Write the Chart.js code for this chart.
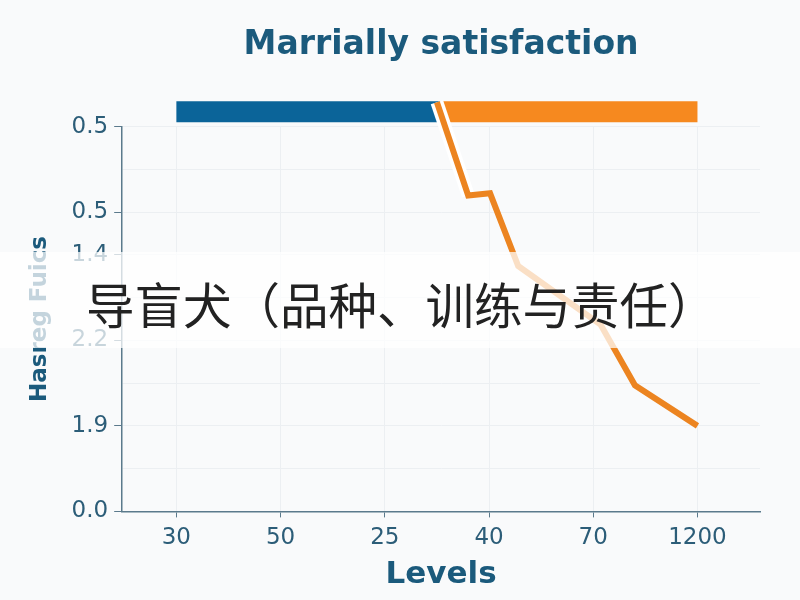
<!DOCTYPE html>
<html>
<head>
<meta charset="utf-8">
<script src="https://cdn.jsdelivr.net/npm/chart.js@4"></script>
<style>
html,body{margin:0;padding:0;background:#f9fafb;}
#wrap{position:relative;width:800px;height:600px;overflow:hidden;}
#overlay{position:absolute;left:0;top:252px;width:800px;height:96px;background:rgba(255,255,255,0.74);}
#overlay span{position:absolute;left:86px;top:0;height:96px;line-height:96px;font-family:"Noto Sans CJK SC";font-size:48.5px;color:#222;white-space:nowrap;padding-top:3px;}
</style>
</head>
<body>
<div id="wrap">
<canvas id="c" width="800" height="600"></canvas>
<div id="overlay"><span>导盲犬（品种、训练与责任）</span></div>
</div>
<script>
// ---- data ----
const categories = ['30', '50', '25', '40', '70', '1200'];
const yTickLabels = ['0.0', '', '1.9', '', '2.2', '', '1.4', '0.5', '', '0.5'];
const lineX = [2.5, 2.8, 3.01, 3.28, 4.07, 4.4, 5.0];
const lineY = [9.57, 7.39, 7.44, 5.74, 4.37, 2.95, 2.0];
const bandLevel = 9.35;
const blueBandX = [0, 2.53];
const orangeBandX = [2.53, 5.0];

// ---- styles ----
const axisColor = '#5b7a8c';
const textColor = '#2c5d78';
const titleColor = '#1b5a7c';
const gridColor = '#eceff2';

const pts = (xs, ys) => xs.map((x, i) => ({x: x, y: ys[i]}));

new Chart(document.getElementById('c'), {
  type: 'line',
  data: {
    datasets: [
      {
        label: 'line',
        data: pts(lineX, lineY),
        borderColor: '#ec8420',
        borderWidth: 6,
        pointRadius: 0,
        tension: 0,
        clip: false,
        order: 1,
        borderJoinStyle: 'miter'
      },
      {
        label: 'halo',
        data: pts(lineX.slice(0, 2), lineY.slice(0, 2)),
        borderColor: '#ffffff',
        borderWidth: 13,
        pointRadius: 0,
        clip: false,
        order: 2
      },
      {
        label: 'blue',
        data: blueBandX.map(x => ({x: x, y: bandLevel})),
        borderColor: '#0b6499',
        borderWidth: 21,
        borderCapStyle: 'butt',
        pointRadius: 0,
        clip: false,
        order: 3
      },
      {
        label: 'orange',
        data: orangeBandX.map(x => ({x: x, y: bandLevel})),
        borderColor: '#f6891f',
        borderWidth: 21,
        borderCapStyle: 'butt',
        pointRadius: 0,
        clip: false,
        order: 3
      }
    ]
  },
  options: {
    responsive: false,
    animation: false,
    layout: {padding: {left: 26, right: 40, bottom: 10, top: 0}},
    plugins: {
      legend: {display: false},
      tooltip: {enabled: false},
      title: {
        display: true,
        text: 'Marrially satisfaction',
        color: titleColor,
        fullSize: false,
        font: {family: 'DejaVu Sans', size: 33, weight: 'bold'},
        padding: {top: 26, bottom: 61}
      }
    },
    scales: {
      x: {
        type: 'linear',
        min: -0.52,
        max: 5.6,
        afterBuildTicks: s => { s.ticks = categories.map((c, i) => ({value: i})); },
        ticks: {
          autoSkip: false,
          maxRotation: 0,
          color: textColor,
          padding: 7,
          font: {family: 'DejaVu Sans', size: 23},
          callback: (v, i) => categories[i]
        },
        grid: {color: gridColor, tickColor: axisColor, tickLength: 6, lineWidth: 1},
        border: {color: axisColor, width: 1.5},
        title: {
          display: true,
          text: 'Levels',
          color: titleColor,
          font: {family: 'DejaVu Sans', size: 31, weight: 'bold', lineHeight: 1.0},
          padding: {top: 0, bottom: 0}
        }
      },
      y: {
        type: 'linear',
        min: 0,
        max: 9,
        afterBuildTicks: s => { s.ticks = yTickLabels.map((t, i) => ({value: i})); },
        ticks: {
          autoSkip: false,
          color: textColor,
          padding: 6,
          font: {family: 'DejaVu Sans', size: 23},
          callback: (v) => yTickLabels[v]
        },
        grid: {
          color: gridColor,
          tickLength: 8,
          tickColor: ctx => (ctx.tick && yTickLabels[ctx.tick.value]) ? axisColor : 'rgba(0,0,0,0)'
        },
        border: {color: axisColor, width: 1.5},
        title: {
          display: true,
          text: 'Hasreg Fuics',
          color: titleColor,
          font: {family: 'DejaVu Sans', size: 23, weight: 'bold'},
          padding: {top: 0, bottom: 12}
        }
      }
    }
  }
});
</script>
</body>
</html>
